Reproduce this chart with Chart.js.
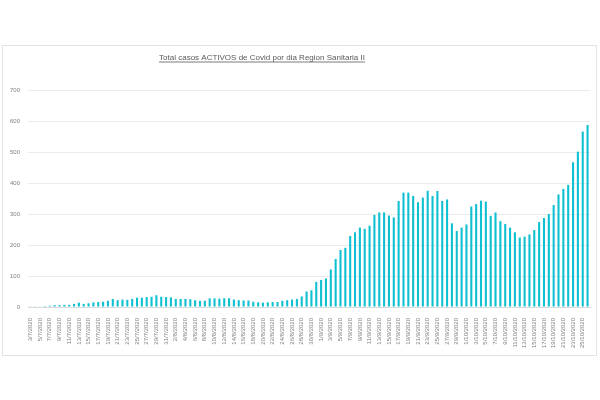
<!DOCTYPE html>
<html>
<head>
<meta charset="utf-8">
<script src="https://cdn.jsdelivr.net/npm/chart.js@4.4.0/dist/chart.umd.min.js"></script>
<style>
  html, body { margin: 0; padding: 0; background: #fff; }
  #wrap { width: 600px; height: 400px; }
</style>
</head>
<body>
<div id="wrap"><canvas id="grafico" width="600" height="400"></canvas></div>
<script>
"use strict";

var titulo = "Total casos ACTIVOS de Covid por dia Region Sanitaria II";

var fechas = [
  "3/7/2020", "4/7/2020", "5/7/2020", "6/7/2020", "7/7/2020", "8/7/2020", "9/7/2020", "10/7/2020",
  "11/7/2020", "12/7/2020", "13/7/2020", "14/7/2020", "15/7/2020", "16/7/2020", "17/7/2020", "18/7/2020",
  "19/7/2020", "20/7/2020", "21/7/2020", "22/7/2020", "23/7/2020", "24/7/2020", "25/7/2020", "26/7/2020",
  "27/7/2020", "28/7/2020", "29/7/2020", "30/7/2020", "31/7/2020",
  "1/8/2020", "2/8/2020", "3/8/2020", "4/8/2020", "5/8/2020", "6/8/2020", "7/8/2020", "8/8/2020",
  "9/8/2020", "10/8/2020", "11/8/2020", "12/8/2020", "13/8/2020", "14/8/2020", "15/8/2020", "16/8/2020",
  "17/8/2020", "18/8/2020", "19/8/2020", "20/8/2020", "21/8/2020", "22/8/2020", "23/8/2020", "24/8/2020",
  "25/8/2020", "26/8/2020", "27/8/2020", "28/8/2020", "29/8/2020", "30/8/2020", "31/8/2020",
  "1/9/2020", "2/9/2020", "3/9/2020", "4/9/2020", "5/9/2020", "6/9/2020", "7/9/2020", "8/9/2020",
  "9/9/2020", "10/9/2020", "11/9/2020", "12/9/2020", "13/9/2020", "14/9/2020", "15/9/2020", "16/9/2020",
  "17/9/2020", "18/9/2020", "19/9/2020", "20/9/2020", "21/9/2020", "22/9/2020", "23/9/2020", "24/9/2020",
  "25/9/2020", "26/9/2020", "27/9/2020", "28/9/2020", "29/9/2020", "30/9/2020",
  "1/10/2020", "2/10/2020", "3/10/2020", "4/10/2020", "5/10/2020", "6/10/2020", "7/10/2020", "8/10/2020",
  "9/10/2020", "10/10/2020", "11/10/2020", "12/10/2020", "13/10/2020", "14/10/2020", "15/10/2020", "16/10/2020",
  "17/10/2020", "18/10/2020", "19/10/2020", "20/10/2020", "21/10/2020", "22/10/2020", "23/10/2020", "24/10/2020",
  "25/10/2020", "26/10/2020"
];

// casos activos
var activos = [
  1, 1, 2, 3, 4, 6, 6, 7, 7, 10, 14, 10, 12, 15, 16, 17, 20, 26, 22, 24,
  23, 26, 30, 30, 32, 33, 38, 33, 32, 31, 26, 26, 26, 25, 22, 20, 20, 28, 28, 27,
  28, 28, 24, 22, 21, 21, 17, 15, 14, 15, 16, 16, 20, 22, 24, 26, 34, 50, 54, 81,
  87, 92, 121, 155, 184, 191, 229, 241, 256, 252, 262, 297, 305, 305, 295, 289, 342, 369, 369, 358,
  338, 353, 375, 358, 374, 342, 347, 270, 245, 256, 266, 324, 332, 343, 340, 294, 305, 277, 268, 256,
  241, 224, 227, 234, 248, 274, 287, 300, 329, 363, 381, 394, 467, 501, 566, 587
];

var ejeY = [0, 100, 200, 300, 400, 500, 600, 700];

var fuente = "'Liberation Sans', 'DejaVu Sans', sans-serif";

// marco y titulo subrayado
var decorado = {
  id: "decorado",
  beforeDraw: function (chart) {
    var ctx = chart.ctx;
    ctx.save();
    ctx.strokeStyle = "#e3e3e3";
    ctx.lineWidth = 1;
    ctx.strokeRect(2.5, 45.5, 594, 310);
    ctx.restore();
  },
  afterDraw: function (chart) {
    var ctx = chart.ctx;
    ctx.save();
    ctx.font = "8px " + fuente;
    ctx.fillStyle = "#595959";
    ctx.textAlign = "center";
    ctx.textBaseline = "alphabetic";
    ctx.fillText(titulo, 262, 60);
    var w = ctx.measureText(titulo).width;
    ctx.strokeStyle = "#595959";
    ctx.lineWidth = 0.8;
    ctx.beginPath();
    ctx.moveTo(262 - w / 2, 62);
    ctx.lineTo(262 + w / 2, 62);
    ctx.stroke();
    ctx.restore();
  }
};

var ctx = document.getElementById("grafico");

new Chart(ctx, {
  type: "bar",
  data: {
    labels: fechas,
    datasets: [
      {
        label: "Casos activos",
        data: activos,
        backgroundColor: "#0FC0D2",
        borderWidth: 0,
        barPercentage: 0.9,
        categoryPercentage: 0.48
      }
    ]
  },
  options: {
    responsive: false,
    animation: false,
    devicePixelRatio: 1,
    layout: {
      padding: { left: 2, right: 10, top: 90, bottom: 50 }
    },
    plugins: {
      legend: { display: false },
      title: { display: false },
      tooltip: { enabled: false }
    },
    scales: {
      x: {
        grid: { display: false },
        border: { display: true, color: "#d9d9d9" },
        afterFit: function (scale) {
          scale.height = 43;
        },
        ticks: {
          autoSkip: false,
          minRotation: 90,
          maxRotation: 90,
          padding: 3,
          color: "#7f7f7f",
          font: { size: 6, family: fuente },
          callback: function (val, i) {
            return i % 2 === 0 ? fechas[i] : "";
          }
        }
      },
      y: {
        min: ejeY[0],
        max: ejeY[ejeY.length - 1],
        afterFit: function (scale) {
          scale.width = 26;
        },
        afterBuildTicks: function (scale) {
          scale.ticks = ejeY.map(function (v) { return { value: v }; });
        },
        grid: { color: "#ebebeb", drawTicks: false },
        border: { display: false },
        ticks: {
          padding: 8,
          color: "#7f7f7f",
          font: { size: 6, family: fuente }
        }
      }
    }
  },
  plugins: [decorado]
});
</script>
</body>
</html>
